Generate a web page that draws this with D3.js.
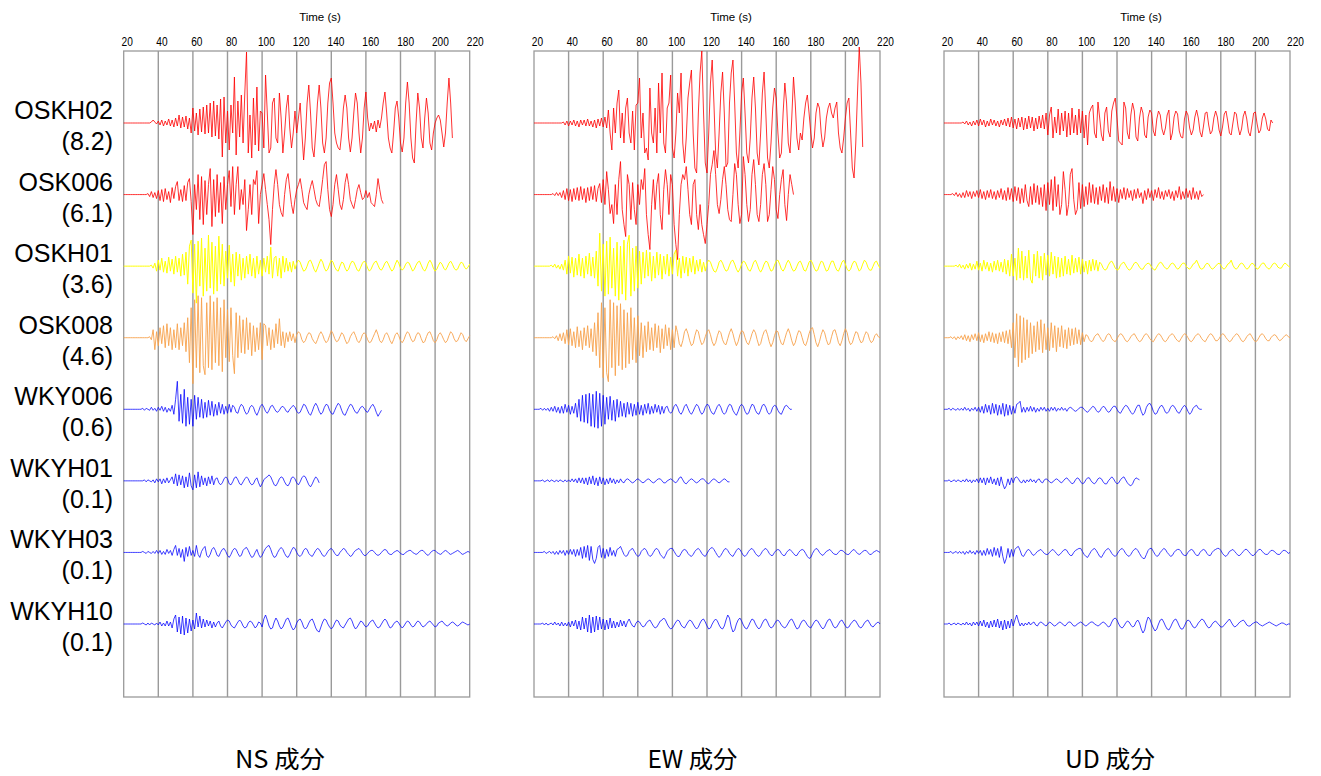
<!DOCTYPE html>
<html><head><meta charset="utf-8">
<script src="https://cdn.jsdelivr.net/npm/d3@7"></script>
<style>body{margin:0;background:#fff}</style>
</head><body>
<svg id="chart" width="1321" height="776"></svg>
<script>
// ---------------- DATA ----------------
const components = ["NS", "EW", "UD"];
const componentLabels = ["NS 成分", "EW 成分", "UD 成分"];
const stations = ["OSKH02", "OSK006", "OSKH01", "OSK008", "WKY006", "WKYH01", "WKYH03", "WKYH10"];
const peakValues = ["(8.2)", "(6.1)", "(3.6)", "(4.6)", "(0.6)", "(0.1)", "(0.1)", "(0.1)"];
const stationColors = ["#ff0000", "#ff0000", "#ffff00", "#f7a24c", "#0000ff", "#0000ff", "#0000ff", "#0000ff"];
const tickValues = [20, 40, 60, 80, 100, 120, 140, 160, 180, 200, 220];
const startTime = 20;   // s, time of first sample
const sampleStep = 1;   // s between samples

// relative amplitudes, one sample per second from t = 20 s
const NS_OSKH02 = [0,0,0,0,0,0,0,0,0,0, 0,0,0,0,0,0,1,3,1,-1, 2,-2,3,-3,2,-2,4,-3,3,-4, 5,-3,8,-5,6,-4,7,-6,5,-10,
 15,-8,10,-12,14,-9,16,-11,18,-10, 20,-14,22,-13,18,-16,24,-34,26,-20, 12,-27,18,-10,46,-32,22,-14,28,-20,
 30,71,-30,8,-35,25,-22,36,-28,12, 10,-25,48,10,-30,-25,20,25,-15,-20, 30,5,-30,-10,15,28,-5,-25,-10,12,
 -10,5,20,-10,-37,-15,20,38,10,-25, -34,-10,20,38,15,-20,-30,-15,20,40, 45,20,-10,-20,-25,-27,-10,15,28,15,
 -15,-29,-15,10,30,20,-10,-30,-15,15, 31,5,-8,0,-6,2,-9,3,-5,5, 20,31,10,-15,-25,-30,-10,15,22,5,
 -20,-29,-15,20,41,20,-15,-35,-40,0, 30,15,-15,-25,5,25,10,-20,-27,-10, 0,5,8,3,-10,-24,-10,20,45,20, -15];
const NS_OSK006 = [0,0,0,0,0,0,0,0,0,0, 0,0,0,0,1,-2,3,-3,2,-4, 4,-6,5,-7,6,-5,3,-8,7,-4, 8,13,-6,5,-7,9,-6,12,16,-7,
 -40,10,-15,20,-25,18,-30,14,-20,10, 26,-32,15,-22,20,-18,12,-29,18,-15, 10,24,-12,28,-20,10,28,-15,5,-10,
 15,-36,-15,10,-20,15,10,24,-29,0, 10,21,5,-10,-25,-50,-15,10,25,10, -10,-18,-22,0,15,21,5,-10,-19,-5,
 5,10,16,5,-8,-12,-15,0,8,14, 5,-5,-10,-12,0,15,30,33,5,-15, -22,-10,10,20,5,-10,-15,-5,12,21,
 10,-5,-10,-14,-5,5,10,2,-5,-3, 4,-3,2,-8,-10,-12,0,16,5,-5, -9];
const NS_OSKH01 = [0,0,0,0,0,0,0,0,0,0, 0,0,0,0,0,0,1,-2,3,-5, 6,-4,8,-6,5,-7,9,-5,7,-8, 10,-6,8,-10,12,-9,14,-18,20,26,
 -27,22,-37,25,-20,28,-30,18,-25,31, -22,24,-28,20,-25,30,-18,22,-20,15, -12,21,-16,12,-20,14,-10,12,-14,8,
 -12,10,-8,12,-10,8,-12,10,-8,6, -10,8,-6,10,-8,19,-12,8,10,-10, 8,-12,10,-6,8,-5,4,-6,5,-3,
 3,6,4,-1,-5,-4,0,5,6,2, -3,-6,-2,3,7,4,-2,-5,-3,2, 6,4,-1,-4,-5,0,4,3,-2,-5,
 -3,2,5,4,0,-4,-5,-1,3,5, 3,-2,-5,-3,1,4,5,1,-3,-4, -1,3,5,2,-2,-5,-3,2,6,3,
 -2,-4,-2,2,4,3,-1,-5,-3,1, 4,5,1,-3,-5,-2,3,6,3,-2, -5,-3,1,4,2,-2,-4,-1,3,5, 2,-2,-4,-3,1,4,3,-1,-3,-1, 2];
const NS_OSK008 = [0,0,0,0,0,0,0,0,0,0, 0,0,0,0,0,1,-2,8,-12,6, -8,10,-6,12,-10,14,-8,10,-12,8, -10,14,-12,10,-8,15,-14,20,-25,30,
 -46,38,-30,42,-35,40,-28,-37,35,-30, 42,-32,36,-25,40,-28,30,-34,38,-20, 28,-24,30,-18,-36,25,-20,22,-15,18,
 -16,20,-12,15,-18,12,-14,10,-12,15, -22,14,12,-8,10,-12,8,-10,14,-6, 19,-8,6,-10,5,-4,6,-3,4,-5,
 3,6,4,-2,-5,-3,2,5,4,-1, -4,-6,-2,3,6,3,-2,-5,-3,2, 7,4,-1,-4,-3,1,5,3,-2,-6,
 -4,1,4,6,2,-3,-5,-2,3,5, 3,-2,-5,-4,0,4,8,3,-3,-5, -2,3,5,2,-3,-6,-2,3,5,2,
 -3,-5,-2,3,6,4,-1,-4,-3,2, 5,4,-1,-5,-4,1,5,6,2,-3, -5,-2,3,5,2,-2,-5,-3,2,6, 4,-1,-4,-3,1,5,3,-2,-4,-1, 2];
const NS_WKY006 = [0,0,0,0,0,0,0,0,0,0, 0,1,-1,1,0,-1,2,-1,1,-2, 2,-1,3,-2,2,-3,1,-2,4,-5, 10,28,-12,15,-14,20,-17,12,-15,10,
 -17,14,-10,12,-8,10,-9,7,-8,9, -6,8,-7,5,-6,7,-4,5,-5,3, -4,5,-3,4,2,-3,-4,2,5,3,
 -2,-5,-3,2,4,2,-3,-6,-2,3, 5,2,-2,-4,-1,3,4,1,-2,-3, -1,2,3,1,-2,-3,0,2,4,2,
 -2,-4,-3,1,5,4,0,-4,-6,-2, 3,6,3,-2,-5,-3,2,5,4,-1, -4,-5,-1,3,6,4,-1,-5,-6,-2,
 2,5,4,0,-3,-4,-1,2,3,1, -2,-3,0,3,5,2,-3,-7,-4,-1];
const NS_WKYH01 = [0,0,0,0,0,0,0,0,0,0, 0,0,1,-1,1,0,-1,1,-2,2, -1,2,-3,2,-2,3,-2,1,4,-3, 7,-5,6,-4,5,-7,4,-6,8,-5,
 -9,6,-7,9,-6,5,-4,3,-5,4, -3,5,-4,2,3,-2,-4,-2,2,4, 2,-3,-4,-1,3,4,1,-3,-4,-1,
 2,4,2,-2,-4,-3,1,3,-2,-6, -3,1,3,4,6,4,0,-4,-5,-2, 2,4,3,-1,-4,-5,-2,3,4,2,
 -2,-4,-1,3,5,4,0,-4,-6,-3, 1,4,2,-2];
const NS_WKYH03 = [0,0,0,0,0,0,0,0,0,0, 0,1,0,-1,1,0,-1,1,-1,2, -1,2,-2,1,-2,3,-1,2,-3,3, 7,-3,4,-5,3,-9,5,-4,6,-3,
 2,-4,7,-2,-5,1,4,6,-3,-5, -2,3,5,2,-3,-4,0,3,4,1, -3,-5,-2,2,4,3,-1,-4,-3,2,
 4,5,2,-2,-5,-4,0,3,-2,-5, -3,1,4,6,7,3,-2,-5,-4,0, 3,5,3,-1,-4,-5,-2,2,5,4,
 0,-3,-4,-2,2,4,3,-1,-3,-4, -1,2,4,3,0,-3,-4,-2,1,3, 4,2,-1,-3,-3,0,2,4,3,0,
 -2,-4,-3,0,2,3,4,2,-1,-3, -3,-1,1,2,2,0,-2,-3,-2,0, 2,3,2,-1,-2,-2,0,1,2,1,
 -1,-2,-2,0,1,2,2,0,-1,-2, -1,1,2,2,0,-2,-3,-1,1,2, 2,0,-1,-2,-1,1,2,1,-1,-2, -1,0,1,2,1,-1,-2,-1,0,1, 0];
const NS_WKYH10 = [0,0,0,0,0,0,0,0,0,0, 0,1,0,-1,1,-1,1,0,-1,1, -1,2,-2,1,-2,3,-2,2,-4,5, 9,-8,7,-10,8,-11,6,-9,5,-7,
 4,-5,11,-3,8,-4,5,-3,4,-2, 3,-4,2,-3,1,3,-2,-4,-1,2, 4,3,-1,-3,-4,-1,2,4,2,-2,
 -4,-3,1,3,2,-1,-4,-2,2,1, -3,5,9,4,-2,-5,-4,2,6,3, -2,-5,-3,1,5,6,2,-3,-6,-4,
 1,4,5,2,-3,-5,-3,1,4,5, 1,-4,-7,-8,-3,2,5,4,0,-3, -5,-3,1,4,3,-1,-3,-4,-1,2,
 5,6,3,-2,-5,-3,0,3,2,-1, -3,-2,1,3,4,1,-2,-4,-3,0, 3,5,3,-1,-4,-3,0,2,3,1,
 -2,-4,-2,1,3,2,-1,-3,-2,1, 3,2,-1,-3,-2,0,2,3,1,-1, -3,-2,1,2,3,1,-1,-2,-1,1, 2,1,-1,-2,-1,1,2,1,0,-1, 0];

const EW_OSKH02 = [0,0,0,0,0,0,0,0,0,0, 0,0,0,0,0,0,0,1,-2,2, -3,2,-2,3,-3,2,-4,3,-2,3, -3,4,-3,2,-4,3,-5,4,-3,5,
 -4,6,-5,13,-10,-27,15,-10,20,33, -15,10,-20,15,25,-10,-20,12,-27,18, 20,45,-15,10,-30,-25,-37,35,-10,-20,
 15,-30,40,-10,50,-20,-30,15,20,48, -25,-35,-10,30,10,50,-20,-40,-15,25, 40,53,-10,-45,-50,10,50,72,10,-40,
 -50,-10,40,63,20,-30,-45,-10,30,51, 10,-44,-40,20,50,63,20,-30,-45,-10, 30,45,10,-30,-40,-15,25,46,15,-30,
 -42,-10,30,51,10,-35,-45,-20,15,35, 25,-10,-35,-30,10,40,20,-20,-30,5, 46,20,-15,-27,-10,-17,5,20,28,10,
 -10,-25,-15,10,20,15,-10,-24,-15,5, 15,20,10,5,15,21,-10,-25,-30,-15, 5,20,25,-10,-45,-55,-20,30,76,40, -24];
const EW_OSK006 = [0,0,0,0,0,0,0,0,0,0, 0,1,-1,2,-1,2,-3,4,-5,6, -6,5,-7,6,-5,7,-6,8,-5,6, -8,7,-6,8,-5,9,-7,6,11,-8,
 15,-10,23,5,-19,-10,-29,10,-20,15, 33,-15,-30,-42,20,10,-25,12,-15,-30, 10,-10,15,5,26,-20,-40,-55,-10,15,
 -15,10,21,-20,-35,5,25,10,-20,20, 10,-30,-50,-65,-20,10,20,15,28,5, -20,-30,10,15,-20,-35,-10,-30,-40,-49,
 -30,-10,20,30,44,20,-10,-19,-5,15, 28,10,-15,-25,-27,0,31,20,-10,-29, -20,38,20,-10,-27,-15,20,35,10,-20,
 -27,-10,20,31,10,-27,-20,5,28,15, -15,-24,0,15,25,-10,-26,0,20,10, 0];
const EW_OSKH01 = [0,0,0,0,0,0,0,0,0,0, 1,-1,2,-2,1,-3,2,-4,6,-8, 10,-7,9,-11,8,-9,12,-10,8,-12, 10,-8,13,-10,9,-12,15,-20,33,-25,
 22,-30,25,-28,29,-22,18,-30,24,-34, 20,-28,26,-34,22,31,-30,18,-25,20, -22,15,-18,14,-12,16,-10,14,-15,10,
 -12,14,-9,12,-13,10,-8,12,-10,9, -8,12,16,-10,8,-12,10,-7,9,-10, 8,-6,10,-8,6,-5,7,-6,4,-5,
 3,6,4,-1,-5,-6,-2,4,6,3, -2,-5,-4,1,5,6,2,-3,-6,-3, 2,5,4,0,-4,-5,-1,4,6,2,
 -3,-6,-3,2,5,4,-1,-5,-4,1, 5,6,2,-3,-5,-2,3,6,3,-2, -5,-4,0,4,5,1,-4,-5,-1,4,
 6,3,-2,-5,-4,1,5,4,-1,-5, -4,1,5,5,0,-4,-5,-1,4,6, 2,-3,-5,-3,2,5,4,-1,-5,-3, 2,6,4,-1,-4,-4,0,4,5,1, -2];
const EW_OSK008 = [0,0,0,0,0,0,0,0,0,0, 0,1,-1,2,-3,4,-3,5,-6,8, -7,9,-8,6,-10,11,-9,7,-12,10, -8,12,-10,9,-14,15,-18,25,-30,35,
 -40,30,-35,-44,38,-30,35,-38,32,-28, 34,-32,28,-30,25,-26,30,-22,20,-25, 22,-18,15,-20,12,-14,16,-12,10,-13,
 14,-10,12,-15,9,-11,13,-8,10,-12, 8,-10,12,5,-6,-9,-3,6,9,4, -3,-8,-6,2,8,6,-2,-7,-5,1,
 6,8,3,-4,-8,-5,2,7,5,-2, -6,-7,-1,5,9,4,-3,-8,-4,3, 7,6,0,-5,-7,-2,4,8,5,-2,
 -8,-6,1,6,8,3,-4,-9,-5,2, 7,6,-1,-6,-7,-1,5,9,4,-3, -8,-5,2,7,6,0,-6,-8,-3,4,
 9,10,3,-5,-9,-4,3,8,5,-2, -7,-6,1,7,8,2,-5,-8,-3,4, 9,5,-3,-7,-5,1,6,5,-1,-5, -4,2,6,4,-2,-5,-3,2,4,1, 0];
const EW_WKY006 = [0,0,0,0,1,-1,1,-1,1,-2, 2,-2,3,-3,2,-4,3,-4,5,-3, 4,-5,3,-4,6,-8,10,-12,14,-13, 15,-14,16,-17,15,-18,18,-19,16,-17,
 14,-15,12,-10,13,-11,9,-12,10,-8, 8,-7,6,-8,7,-5,6,-7,5,-6, 7,-5,4,-6,5,-4,6,-5,3,-4,
 5,-3,4,-5,3,-4,2,3,-2,-4, -2,3,5,2,-3,-5,-2,3,5,1, -3,-5,-2,2,5,3,-2,-5,-3,2,
 5,4,-1,-4,-5,-1,3,5,2,-3, -5,-3,2,5,4,-1,-4,-6,-2,3, 5,3,-2,-5,-4,1,5,4,-1,-4,
 -5,-1,4,5,2,-3,-5,-3,2,4, 3,-1,-4,-5,-1,3,4,2,0,0];
const EW_WKYH01 = [0,0,0,0,0,1,-1,0,1,-1, 1,0,-1,1,-1,1,0,-1,1,-1, 1,-1,2,-1,2,-2,3,-2,3,-3, 3,-4,4,-3,5,-4,3,-5,4,-3,
 3,-4,2,-3,3,-2,2,-3,1,-2, 2,-1,-2,1,2,1,-1,-2,-1,1, 2,1,-1,-2,-1,1,2,1,-1,-2,
 -1,1,2,2,0,-2,-2,0,1,2, 1,-1,-2,0,3,4,1,-2,-3,-1, 1,2,1,-1,-2,-1,1,2,2,0,
 -2,-3,-1,1,2,1,-1,-2,-1,1, 2,1,-1,-1];
const EW_WKYH03 = [0,0,0,0,0,0,1,-1,0,1, -1,1,-2,1,-2,2,-1,2,-3,2, -2,3,-2,3,-4,3,-3,5,-6,6, -5,7,-8,6,-7,-11,-6,5,7,-5,
 4,-6,3,-4,5,-3,2,-4,3,4, 6,2,-2,-4,-3,1,3,4,1,-2, -4,-3,1,3,4,2,-2,-4,-3,0,
 3,4,2,-2,-4,-6,-3,1,3,4, 4,1,-2,-4,-4,-1,2,3,2,-1, -3,-4,-2,1,3,4,2,-1,-3,-4,
 -1,2,4,5,3,0,-3,-5,-3,0, 3,4,2,-1,-3,-4,-1,2,4,3, 0,-3,-4,-2,1,3,4,2,-1,-3,
 -4,-2,1,3,4,2,-1,-3,-3,0, 2,3,2,-1,-3,-3,0,2,3,1, -1,-3,-3,0,2,3,2,-1,-4,-6,
 -5,-1,2,4,3,0,-2,-3,-1,1, 2,3,1,-1,-2,-2,0,2,2,1, -1,-2,-2,0,2,3,1,-1,-2,-1, 1,2,2,0,-2,-2,0,1,2,1, 0];
const EW_WKYH10 = [0,0,0,0,0,1,-1,1,-1,0, 1,-1,2,-1,1,-2,2,-2,1,-2, 2,-3,3,-2,4,-5,3,-6,7,-5, 6,-8,9,-9,7,-8,8,-6,7,-5,
 5,-6,4,-5,6,-4,3,-4,2,-3, 4,-2,3,-3,2,5,1,-2,-3,1, 3,2,-1,-3,-2,1,3,4,1,-2,
 -4,-3,0,3,4,6,4,0,-3,-5, -4,-1,2,4,3,-1,-3,-4,-1,2, 4,3,0,-3,-5,-3,1,4,5,2,
 -2,-5,-4,0,3,5,3,-1,-4,-5, -2,4,9,6,-3,-8,-6,0,4,6, 3,-1,-4,-5,-2,2,5,4,0,-3,
 -5,-3,1,4,5,2,-2,-4,-3,0, 3,4,2,-1,-3,-4,-2,1,4,5, 2,-2,-5,-4,0,3,4,2,-1,-3,
 -4,-1,2,4,3,0,-3,-5,-3,1, 4,5,2,-2,-4,-3,0,3,4,1, -2,-4,-3,0,2,4,3,0,-3,-4, -2,1,3,4,1,-2,-3,-1,1,2, 0];

const UD_OSKH02 = [0,0,0,0,0,0,0,0,0,0, 0,1,-1,2,-2,1,-3,2,-2,3, -3,4,-2,3,-4,2,-3,4,-2,3, -3,2,-4,3,-2,4,-3,5,-4,6,
 -5,4,-6,5,-4,6,-7,5,-6,7, -5,6,-8,5,-6,7,-5,8,-6,10, -12,8,16,-15,6,-10,14,-12,10,-8,
 12,-14,10,-12,15,-10,8,-12,14,-10, 12,-15,8,-22,10,15,18,-10,-15,21, 5,-12,-18,10,16,-8,-14,12,20,25,
 5,-18,-20,-22,21,15,-10,-16,8,20, 12,-14,-18,5,16,10,-12,-15,6,13, 10,-8,-13,4,12,8,-6,-12,-5,8,
 13,-17,-10,6,12,9,-8,-14,-15,4, 12,8,-5,-12,-7,6,13,5,-9,-14, -3,10,11,-2,-11,-8,5,12,6,-7,
 -13,-4,9,12,2,-10,-12,0,11,9, -4,-12,-6,7,12,4,-9,-13,-2,10, 11,-1,-10,-7,5,10,4,-6,-8,3, 0];
const UD_OSK006 = [0,0,0,0,0,1,-1,2,-2,1, -3,2,-3,4,-2,3,-4,3,-2,4, -3,5,-4,3,-5,4,-3,5,-4,3, -5,4,-3,6,-5,4,-6,7,-5,6,
 -7,8,-6,7,-9,6,-8,10,-6,-12, 8,-10,11,-8,9,-10,7,-12,10,-16, 12,-10,15,-16,18,-12,10,-20,-10,23,
 5,-21,-10,20,26,-5,-20,-15,12,-14, 10,-12,8,-10,12,-8,10,-9,7,-10, 8,-6,10,-8,7,-9,13,-6,8,-7,
 6,-8,5,-4,7,-5,6,-3,4,-6, 5,-4,6,-3,2,-9,4,-5,6,-3, 4,-6,5,-3,7,-4,3,-5,4,-2,
 5,-4,3,-6,4,-3,8,-5,3,-4, 6,-3,4,-5,7,-4,3,-5,4,-2, 0];
const UD_OSKH01 = [0,0,0,0,0,0,0,1,-1,2, -2,1,-3,2,-2,3,-4,2,-3,5, -4,3,-5,6,-3,4,-5,3,-6,5, -4,6,-5,4,-6,7,-8,6,-10,12,
 -10,8,-14,18,-12,15,-14,10,-12,16, -13,-17,12,-10,15,-12,10,-14,13,-9, 11,-10,14,-8,10,-12,9,-11,8,-10,
 10,-8,7,-9,11,-7,8,-6,9,-8, 7,-6,5,-8,6,-5,7,-4,6,-5, 4,2,-2,-4,-3,1,4,5,2,-2,
 -4,-3,1,3,4,1,-2,-4,-3,0, 3,4,2,-1,-3,-3,0,2,3,2, -1,-3,-4,-1,2,4,3,0,-2,-3,
 -1,2,3,2,-1,-3,-2,1,3,3, 0,-2,-3,-1,2,3,6,2,-2,-3, -2,1,3,2,-1,-3,-2,0,2,3,
 1,-2,-3,-1,2,3,6,1,-2,-3, -1,2,3,2,-1,-3,-2,1,3,2, -1,-3,-2,1,3,3,0,-2,-3,-1, 2,3,2,-1,-2,-2,1,3,2,0, -1];
const UD_OSK008 = [0,0,0,0,1,-1,1,-2,1,-1, 2,-2,3,-3,2,-4,3,-2,4,-3, 5,-4,3,-5,4,-3,6,-4,5,-5, 4,-6,5,-4,6,-5,7,-6,8,-10,
 15,-20,24,-29,22,-25,20,-22,18,-20, 15,-16,12,-14,16,-12,18,-15,14,-12, 10,-13,15,-10,12,-14,10,-9,12,-10,
 8,-11,10,-8,9,-7,10,-6,8,-7, 5,-4,3,2,-2,-4,-3,1,3,4, 1,-2,-4,-2,2,4,3,-1,-3,-4,
 -1,2,4,3,0,-3,-4,-2,1,3, 4,1,-2,-4,-3,0,3,4,2,-1, -3,-4,-1,2,4,3,0,-3,-4,-2,
 1,3,4,2,-1,-3,-4,-1,2,4, 3,0,-3,-4,-2,1,3,4,2,-1, -3,-4,-1,2,4,3,0,-3,-3,-1,
 2,4,3,0,-2,-4,-3,0,2,4, 3,0,-3,-4,-2,1,3,4,1,-2, -4,-3,0,3,4,2,-1,-3,-3,0, 2,3,2,-1,-3,-2,0,2,3,1, 0];
const UD_WKY006 = [0,0,0,1,-1,1,0,-1,1,-1, 1,-1,2,-1,1,-2,1,-1,2,-2, 2,-3,3,-4,5,-3,4,-5,6,-4, 5,-6,4,-5,6,-7,5,-6,4,-5,
 3,-4,5,6,8,-3,2,-3,2,-2, 3,-2,2,-3,1,-2,2,-1,2,-2, 1,-2,2,-1,2,-2,1,-1,2,-1,
 1,-2,1,2,1,-1,-2,-1,1,2, 2,0,-2,-3,-1,1,3,2,-1,-3, -2,1,3,2,-1,-3,-2,1,3,3,
 0,-3,-4,-1,2,4,3,0,-3,-5, -3,1,4,4,-2,-6,-4,2,5,6, 3,-2,-5,-4,0,3,4,1,-3,-4,
 -2,2,4,3,0,-3,-4,-1,2,4, 2,-2,-5,-3,1,3,4,1,0,0];
const UD_WKYH01 = [0,0,0,1,-1,0,1,-1,1,0, -1,1,-1,2,-1,1,-2,1,-1,2, -2,3,-2,3,-4,3,-2,4,-3,2, -4,3,-5,4,-3,-8,-5,2,-4,3,
 -2,3,4,2,-1,-2,1,-2,1,-1, 2,-1,1,-2,1,2,-1,-2,1,2, 1,-1,-2,-1,1,2,1,-1,-2,0,
 2,3,1,-1,-3,-2,1,3,2,-1, -3,-2,1,3,3,0,-2,-3,-1,2, 3,2,-1,-3,-3,0,2,4,2,-1,
 -3,-2,1,3,4,1,-2,-4,-5,-3, 1,3,2,1];
const UD_WKYH03 = [0,0,0,0,1,-1,0,1,-1,1, -1,1,-2,1,-1,2,-1,1,-2,2, -1,2,-3,2,-3,4,-2,3,-4,5, -3,4,-5,6,-4,-11,-6,4,-5,3,
 -4,3,5,6,2,-3,-4,-1,2,3, 1,-2,-3,-1,1,2,3,1,-1,-2, -2,0,2,3,1,-1,-3,-2,0,2,
 3,2,-1,-3,-3,0,2,3,4,4, 1,-2,-4,-5,-2,1,3,4,2,-1, -4,-5,-2,1,3,4,2,-1,-3,-4,
 -2,1,3,4,2,-1,-3,-4,-2,1, 3,4,2,-1,-4,-6,-6,-2,2,4, 4,1,-2,-4,-3,0,2,4,3,0,
 -2,-4,-3,0,2,3,3,1,-2,-3, -3,0,2,3,2,-1,-3,-3,0,2, 3,2,-1,-3,-3,0,2,3,4,4,
 2,-1,-3,-4,-2,1,2,3,1,-1, -3,-3,-1,1,3,3,1,-1,-3,-3, -1,1,3,3,1,-1,-2,-2,0,2, 2,1,-1,-2,-2,0,2,2,1,-1, 0];
const UD_WKYH10 = [0,0,0,1,-1,0,1,-1,1,0, -1,1,-1,2,-1,1,-2,2,-1,2, -2,3,-2,4,-3,2,-4,3,-3,4, -3,5,-4,3,-6,4,-5,3,-4,5,
 -2,4,9,3,-2,1,-2,1,-1,2, -1,1,2,-1,-2,1,2,1,-1,-2, 0,2,1,-1,-2,-1,1,2,1,-1,
 -2,0,2,2,0,-2,-2,0,1,2, 1,-1,-2,-1,1,2,2,0,-1,-2, -1,1,2,1,-1,-3,-2,2,5,6,
 4,0,-3,-4,-2,1,3,2,-1,-3, -2,2,4,1,-5,-9,-6,2,7,5, 0,-4,-7,-5,0,4,5,2,-2,-5,
 -6,-3,1,4,5,2,-2,-5,-5,-2, 2,4,3,0,-3,-4,-2,1,3,5, 4,1,-2,-4,-3,0,2,3,1,-1,
 -3,-3,-1,1,3,5,2,-1,-3,-2, 0,2,3,4,2,-1,-2,-2,0,1, 2,2,0,-1,-2,-1,0,1,2,1, 0,-1,-2,-1,0,1,1,0,-1,0, 0];

const traceSets = {
  NS: [NS_OSKH02, NS_OSK006, NS_OSKH01, NS_OSK008, NS_WKY006, NS_WKYH01, NS_WKYH03, NS_WKYH10],
  EW: [EW_OSKH02, EW_OSK006, EW_OSKH01, EW_OSK008, EW_WKY006, EW_WKYH01, EW_WKYH03, EW_WKYH10],
  UD: [UD_OSKH02, UD_OSK006, UD_OSKH01, UD_OSK008, UD_WKY006, UD_WKYH01, UD_WKYH03, UD_WKYH10]
};

// ---------------- LAYOUT ----------------
const svg = d3.select("#chart");
svg.append("rect").attr("width", 1321).attr("height", 776).attr("fill", "#fff");

const panelLeft = [123.7, 534, 944];
const panelWidth = 346;
const plotTop = 51, plotBottom = 697;
const rowScale = d3.scaleLinear().domain([0, stations.length - 1]).range([123, 624]);
const strokeOpacity = [0.8, 0.8, 1, 0.9, 0.75, 0.75, 0.75, 0.75];

// station labels
stations.forEach((s, i) => {
  const b = rowScale(i);
  svg.append("text").attr("x", 113).attr("y", b - 4).attr("text-anchor", "end")
    .attr("font-family", "Liberation Sans, Arial, sans-serif").attr("font-size", 25).attr("fill", "#000").text(s);
  svg.append("text").attr("x", 113).attr("y", b + 27).attr("text-anchor", "end")
    .attr("font-family", "Liberation Sans, Arial, sans-serif").attr("font-size", 25).attr("fill", "#000").text(peakValues[i]);
});

const labelCenters = [280, 692.5, 1110];
const timeLabelCenters = [320, 731, 1141];

components.forEach((comp, p) => {
  const x0 = panelLeft[p];
  const x = d3.scaleLinear().domain([20, 220]).range([x0, x0 + panelWidth]);
  const xLab = d3.scaleLinear().domain([20, 220]).range([x0 + 3, x0 + panelWidth + 5]);
  const g = svg.append("g");

  g.append("rect").attr("x", x(20)).attr("y", plotTop).attr("width", x(220) - x(20)).attr("height", plotBottom - plotTop)
    .attr("fill", "none").attr("stroke", "#9a9a9a").attr("stroke-width", 1.3);
  g.selectAll("line.grid").data(tickValues.slice(1, -1)).join("line").attr("class", "grid")
    .attr("x1", d => x(d)).attr("x2", d => x(d)).attr("y1", plotTop).attr("y2", plotBottom)
    .attr("stroke", "#9a9a9a").attr("stroke-width", 1.4);

  const ax = d3.axisTop(xLab).tickValues(tickValues).tickSize(0).tickPadding(0);
  const axG = g.append("g").attr("transform", `translate(0,46)`).call(ax);
  axG.select(".domain").remove();
  axG.selectAll("text").attr("font-family", "Liberation Sans, Arial, sans-serif").attr("font-size", 13)
    .attr("fill", "#000").attr("dy", 0).attr("y", 0).attr("transform", "scale(0.78,1)");
  g.append("text").attr("x", timeLabelCenters[p]).attr("y", 21).attr("text-anchor", "middle")
    .attr("font-family", "Liberation Sans, Arial, sans-serif").attr("font-size", 11.5).attr("fill", "#000").text("Time (s)");

  traceSets[comp].forEach((vals, i) => {
    const base = rowScale(i);
    const y = d3.scaleLinear().domain([-100, 100]).range([base + 100, base - 100]);
    const line = d3.line().x((d, k) => x(startTime + k * sampleStep)).y(d => y(d)).curve(d3.curveLinear);
    g.append("path").datum(vals).attr("d", line).attr("fill", "none")
      .attr("stroke", stationColors[i]).attr("stroke-opacity", strokeOpacity[i])
      .attr("stroke-width", 1.0).attr("stroke-linejoin", "round");
  });

  svg.append("text").attr("x", labelCenters[p]).attr("y", 768).attr("text-anchor", "middle")
    .attr("font-family", "Noto Sans CJK JP, sans-serif").attr("font-size", 24)
    .attr("textLength", 90).attr("lengthAdjust", "spacingAndGlyphs").attr("fill", "#000").text(componentLabels[p]);
});
</script>
</body></html>
